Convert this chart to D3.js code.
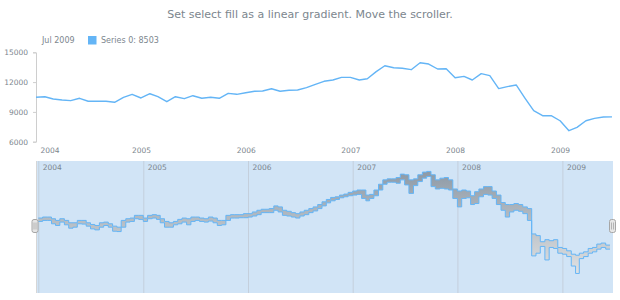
<!DOCTYPE html>
<html>
<head>
<meta charset="utf-8">
<script src="https://cdn.jsdelivr.net/npm/d3@7"></script>
<style>
  body { margin: 0; background: #fff; }
  svg { display: block; font-family: "DejaVu Sans", Verdana, sans-serif; }
</style>
</head>
<body>
<div id="view"></div>
<script>
const chartTitle = 'Set select fill as a linear gradient. Move the scroller.';
const legendDate = 'Jul 2009';
const legendLabel = 'Series 0: 8503';

// monthly values, Jan 2004 .. Jul 2009
const firstMonth = new Date(2004, 0, 1);
const closeValues = [
    10469, 10530, 10300, 10200, 10130, 10370, 10070, 10070, 10070, 9965, 10470, 10770,
    10400, 10830, 10530, 10025, 10530, 10330, 10630, 10370, 10470, 10370, 10870, 10770,
    10930, 11075, 11100, 11335, 11075, 11175, 11200, 11450, 11780, 12080, 12210, 12480,
    12480, 12210, 12340, 13050, 13650, 13450, 13390, 13250, 13950, 13820, 13320, 13350,
    12440, 12580, 12210, 12850, 12650, 11340, 11540, 11710, 10370, 9120, 8615, 8615,
    8110, 7105, 7445, 8110, 8350, 8485, 8503
];

// scroller: half-month high / low, Jan 2004 .. Jun 2009
const highValues = [
    10679, 10755, 10755, 10627, 10499, 10627, 10499, 10320, 10320, 10499, 10499, 10320,
    10192, 10115, 10320, 10371, 10243, 10064, 9987, 10499, 10627, 10679, 10883, 10883,
    10679, 10883, 10934, 10883, 10627, 10422, 10320, 10422, 10576, 10679, 10627, 10755,
    10755, 10679, 10627, 10755, 10679, 10499, 10499, 10883, 10934, 10934, 10934, 11011,
    11011, 11139, 11267, 11344, 11344, 11395, 11600, 11523, 11267, 11190, 11088, 11011,
    11139, 11267, 11395, 11523, 11702, 11907, 12086, 12240, 12291, 12419, 12496, 12624,
    12726, 12803, 12803, 12419, 12470, 12803, 13238, 13571, 13648, 13648, 13750, 14006,
    13955, 13571, 13648, 13955, 14160, 14211, 13955, 13571, 13699, 13750, 13571, 12880,
    12726, 12803, 12726, 12368, 12675, 12880, 13059, 13059, 12726, 12419, 11856, 11702,
    11702, 11779, 11702, 11523, 11395, 9475, 9347, 8886, 9040, 8963, 9040, 8451,
    8374, 8195, 7939, 7862, 8016, 8118, 8374, 8451, 8707, 8784, 8630
];
const lowValues = [
    10422, 10499, 10499, 10243, 10115, 10371, 10166, 9910, 9987, 10243, 10218, 10064,
    9859, 9782, 9987, 10115, 9987, 9680, 9654, 9987, 10371, 10422, 10627, 10576,
    10422, 10627, 10679, 10576, 10320, 9987, 9987, 10166, 10243, 10371, 10166, 10422,
    10499, 10422, 10371, 10448, 10320, 10115, 10166, 10499, 10679, 10679, 10704, 10704,
    10755, 10832, 10934, 11088, 11088, 11088, 11267, 11139, 10883, 10832, 10755, 10679,
    10832, 10934, 11088, 11216, 11395, 11600, 11830, 11984, 12086, 12214, 12291, 12368,
    12419, 12470, 12163, 11984, 12163, 12368, 12803, 13238, 13392, 13392, 13315, 13571,
    13187, 12547, 13136, 13443, 13699, 13827, 13059, 12880, 12931, 12880, 12803, 12163,
    11523, 12163, 12214, 11702, 11779, 12291, 12470, 12419, 12163, 11702, 11267, 10755,
    11139, 11267, 11190, 11011, 10499, 7811, 8016, 8528, 7504, 8451, 8374, 8016,
    7939, 7760, 7043, 6480, 7606, 7760, 8016, 8118, 8323, 8451, 8323
];

const yTicks = [6000, 9000, 12000, 15000];
const yearTicks = [2004, 2005, 2006, 2007, 2008, 2009];

const width = 620, height = 300;
const textColor = '#7c868e';
const seriesColor = '#64b5f6';

const svg = d3.select('#view').append('svg')
    .attr('width', width)
    .attr('height', height);

// title
svg.append('text')
    .attr('x', 310).attr('y', 18)
    .attr('text-anchor', 'middle')
    .attr('font-size', 11)
    .attr('fill', textColor)
    .text(chartTitle);

// legend
const legend = svg.append('g').attr('font-size', 8).attr('fill', textColor);
legend.append('text').attr('x', 42).attr('y', 43).text(legendDate);
legend.append('rect').attr('x', 88).attr('y', 36).attr('width', 8.5).attr('height', 8.5)
    .attr('fill', seriesColor);
legend.append('text').attr('x', 101).attr('y', 43).text(legendLabel);

// main plot
const plot = {left: 36, right: 612, top: 52.3, bottom: 141.7};
const endDate = new Date(2009, 6, 1);
const x = d3.scaleTime()
    .domain([firstMonth, endDate])
    .range([plot.left, plot.right]);
const y = d3.scaleLinear()
    .domain([6000, 15000])
    .range([plot.bottom, plot.top]);

const yAxis = svg.append('g')
    .attr('transform', `translate(${plot.left},0)`)
    .call(d3.axisLeft(y).tickValues(yTicks).tickSize(3).tickPadding(5).tickFormat(d3.format('d')));
yAxis.selectAll('path, line').attr('stroke', '#cecece');
yAxis.selectAll('text').attr('fill', textColor).attr('font-size', 7.5)
    .attr('font-family', '"DejaVu Sans", Verdana, sans-serif');

const yearDates = yearTicks.map(yr => new Date(yr, 0, 1));
const xAxis = svg.append('g')
    .attr('transform', `translate(0,${plot.bottom})`)
    .call(d3.axisBottom(x).tickValues(yearDates).tickSize(0).tickPadding(6)
        .tickFormat(d3.timeFormat('%Y')));
xAxis.select('.domain').remove();
xAxis.selectAll('text').attr('fill', textColor).attr('font-size', 7.5)
    .attr('font-family', '"DejaVu Sans", Verdana, sans-serif');
xAxis.select('.tick text').attr('text-anchor', 'start').attr('x', 4);

const monthly = closeValues.map((v, i) => ({date: d3.timeMonth.offset(firstMonth, i), value: v}));
svg.append('path')
    .datum(monthly)
    .attr('fill', 'none')
    .attr('stroke', seriesColor)
    .attr('stroke-width', 1.4)
    .attr('stroke-linejoin', 'round')
    .attr('d', d3.line().x(d => x(d.date)).y(d => y(d.value)));

// scroller
const sc = {left: 36, right: 613, top: 161, bottom: 293};
const xs = d3.scaleTime()
    .domain([firstMonth, endDate])
    .range([38.3, 614.3]);
const ys = d3.scaleLinear()
    .domain([5000, 15000])
    .range([sc.bottom, sc.top]);

const defs = svg.append('defs');
defs.append('clipPath').attr('id', 'scClip')
    .append('rect').attr('x', sc.left).attr('y', sc.top)
    .attr('width', sc.right - sc.left).attr('height', sc.bottom - sc.top);
const grad = defs.append('linearGradient').attr('id', 'selectFill')
    .attr('gradientUnits', 'userSpaceOnUse')
    .attr('x1', 0).attr('y1', 172).attr('x2', 0).attr('y2', 284);
grad.append('stop').attr('offset', 0).attr('stop-color', '#8e9aa6');
grad.append('stop').attr('offset', 1).attr('stop-color', '#e9e9e9');

svg.append('rect')
    .attr('x', sc.left).attr('y', sc.top)
    .attr('width', sc.right - sc.left).attr('height', sc.bottom - sc.top)
    .attr('fill', '#1976d2').attr('fill-opacity', 0.2);

const sg = svg.append('g').attr('clip-path', 'url(#scClip)');

// year grid + labels inside the scroller
const grid = sg.append('g')
    .attr('transform', `translate(0,${sc.top})`)
    .call(d3.axisBottom(xs).tickValues(yearDates).tickSize(sc.bottom - sc.top).tickPadding(0)
        .tickFormat(d3.timeFormat('%Y')));
grid.select('.domain').remove();
grid.selectAll('line').attr('stroke', '#c4cfdc').attr('stroke-width', 1);
grid.selectAll('text')
    .attr('fill', textColor).attr('font-size', 7.5)
    .attr('font-family', '"DejaVu Sans", Verdana, sans-serif')
    .attr('text-anchor', 'start').attr('x', 4).attr('y', 4).attr('dy', '0.71em');

const halfMonth = (k) => new Date(2004, Math.floor(k / 2), k % 2 ? 16 : 1);
const ranges = highValues.map((h, k) => ({date: halfMonth(k), high: h, low: lowValues[k]}));
// close the last step
const last = ranges[ranges.length - 1];
ranges.push({date: halfMonth(ranges.length), high: last.high, low: last.low});

sg.append('path')
    .datum(ranges)
    .attr('fill', 'url(#selectFill)')
    .attr('d', d3.area().curve(d3.curveStepAfter)
        .x(d => xs(d.date)).y0(d => ys(d.low)).y1(d => ys(d.high)));
['high', 'low'].forEach(key => {
    sg.append('path')
        .datum(ranges)
        .attr('fill', 'none')
        .attr('stroke', seriesColor)
        .attr('stroke-width', 1)
        .attr('d', d3.line().curve(d3.curveStepAfter)
            .x(d => xs(d.date)).y(d => ys(d[key])));
});

// left edge
svg.append('line').attr('x1', sc.left + 0.5).attr('x2', sc.left + 0.5)
    .attr('y1', sc.top).attr('y2', sc.bottom).attr('stroke', '#d6d6d6');

// thumbs
[35, 612.5].forEach(cx => {
    const t = svg.append('g').attr('transform', `translate(${cx},226)`);
    t.append('rect').attr('x', -3).attr('y', -6.5).attr('width', 6).attr('height', 13)
        .attr('rx', 2).attr('fill', '#e6e6e6').attr('stroke', '#a6a6a6');
    [-1, 1].forEach(dx => t.append('line')
        .attr('x1', dx).attr('x2', dx).attr('y1', -3.5).attr('y2', 3.5)
        .attr('stroke', '#a6a6a6').attr('stroke-width', 0.8));
});
</script>
</body>
</html>
